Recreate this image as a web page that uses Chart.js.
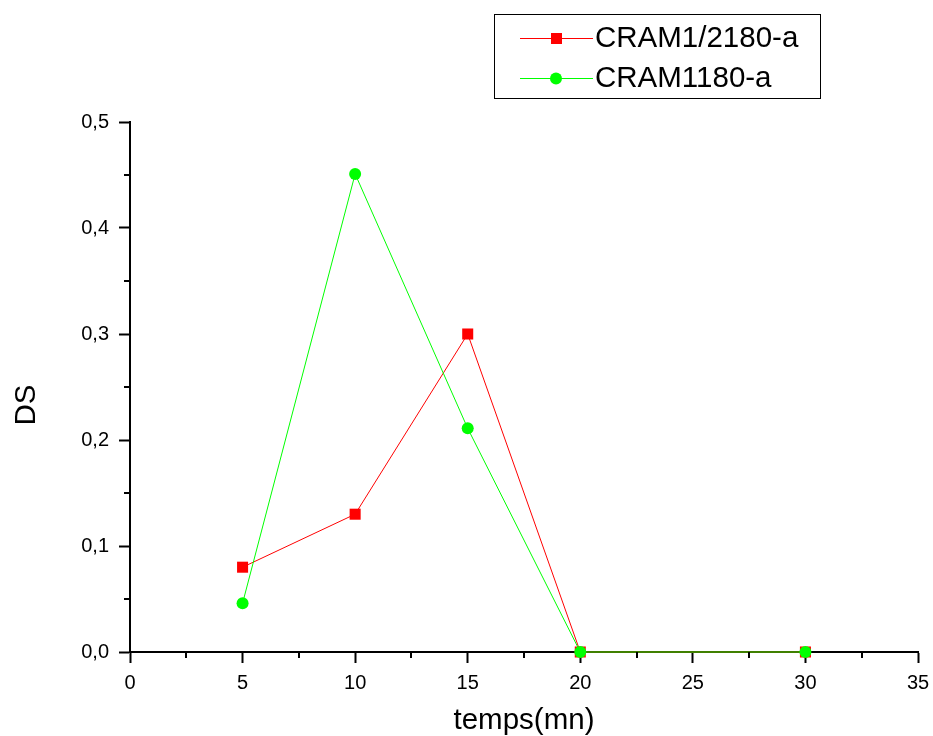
<!DOCTYPE html>
<html>
<head>
<meta charset="utf-8">
<script src="https://cdn.jsdelivr.net/npm/chart.js@4"></script>
<style>
  html, body { margin: 0; padding: 0; background: #fff; }
  #wrap { width: 933px; height: 736px; }
</style>
</head>
<body>
<div id="wrap"><canvas id="chart" width="933" height="736"></canvas></div>
<script>
// values
const tempsMn = [5, 10, 15, 20, 30];
const cram1_2180 = [0.08, 0.13, 0.30, 0, 0];
const cram1180 = [0.046, 0.451, 0.211, 0, 0];
const seriesNames = ['CRAM1/2180-a', 'CRAM1180-a'];
const xMinorTicks = [2.5, 7.5, 12.5, 17.5, 22.5, 27.5, 32.5];
const yMinorTicks = [0.05, 0.15, 0.25, 0.35, 0.45];

const FONT = '"Liberation Sans", Arial, sans-serif';

const toPoints = (ys) => ys.map((y, i) => ({ x: tempsMn[i], y: y }));

// minor ticks, axis titles and the boxed legend
const extras = {
  id: 'extras',
  afterDraw(chart) {
    const ctx = chart.ctx;
    const xs = chart.scales.x, ys = chart.scales.y;
    const area = chart.chartArea;
    ctx.save();
    ctx.strokeStyle = '#000';
    ctx.lineWidth = 2;
    ctx.beginPath();
    xMinorTicks.forEach(v => {
      const px = Math.round(xs.getPixelForValue(v));
      ctx.moveTo(px, area.bottom);
      ctx.lineTo(px, area.bottom + 6);
    });
    yMinorTicks.forEach(v => {
      const py = Math.round(ys.getPixelForValue(v));
      ctx.moveTo(area.left - 6, py);
      ctx.lineTo(area.left, py);
    });
    ctx.stroke();

    // axis titles
    ctx.fillStyle = '#000';
    ctx.font = '29.5px ' + FONT;
    ctx.textAlign = 'center';
    ctx.textBaseline = 'middle';
    ctx.fillText('temps(mn)', 524, 721);
    ctx.save();
    ctx.translate(27, 405);
    ctx.rotate(-Math.PI / 2);
    ctx.fillText('DS', 0, 0);
    ctx.restore();

    // legend
    ctx.lineWidth = 1;
    ctx.strokeStyle = '#000';
    ctx.strokeRect(494.5, 14.5, 326, 84);
    const rows = [38, 78];
    chart.data.datasets.slice().sort((a, b) => a.legendIndex - b.legendIndex).forEach((ds, i) => {
      const y = rows[i];
      ctx.strokeStyle = ds.borderColor;
      ctx.lineWidth = 1;
      ctx.beginPath();
      ctx.moveTo(520, y + 0.5);
      ctx.lineTo(593, y + 0.5);
      ctx.stroke();
      ctx.fillStyle = ds.backgroundColor;
      if (ds.pointStyle === 'rect') {
        ctx.fillRect(551, y - 5, 11, 11);
      } else {
        ctx.beginPath();
        ctx.arc(556, y + 0.5, 6, 0, Math.PI * 2);
        ctx.fill();
      }
      ctx.fillStyle = '#000';
      ctx.textAlign = 'left';
      ctx.fillText(ds.label, 595, y + 1);
    });
    ctx.restore();
  }
};

new Chart(document.getElementById('chart'), {
  type: 'line',
  data: {
    datasets: [
      {
        label: seriesNames[0],
        legendIndex: 0,
        data: toPoints(cram1_2180),
        borderColor: '#ff0000',
        backgroundColor: '#ff0000',
        borderWidth: 1,
        pointStyle: 'rect',
        pointRadius: 7.8,
        pointBorderWidth: 0,
        order: 1,
        clip: false
      },
      {
        label: seriesNames[1],
        legendIndex: 1,
        data: toPoints(cram1180),
        borderColor: '#00ff00',
        backgroundColor: '#00ff00',
        borderWidth: 1,
        pointStyle: 'circle',
        pointRadius: 6,
        pointBorderWidth: 0,
        order: 0,
        clip: false
      }
    ]
  },
  options: {
    responsive: false,
    animation: false,
    layout: { padding: { top: 122, right: 15, bottom: 0, left: 0 } },
    plugins: {
      legend: { display: false },
      tooltip: { enabled: false },
      title: { display: false }
    },
    scales: {
      x: {
        type: 'linear',
        min: 0,
        max: 35,
        ticks: { stepSize: 5, color: '#000', font: { family: FONT, size: 20 }, padding: 8, maxRotation: 0 },
        grid: { display: true, drawOnChartArea: false, drawTicks: true, tickLength: 11, tickColor: '#000', tickWidth: 2 },
        border: { display: true, color: '#000', width: 2 },
        afterFit(scale) { scale.height = 84; scale.paddingRight = 5; scale.paddingLeft = 5; }
      },
      y: {
        type: 'linear',
        min: 0,
        max: 0.5,
        ticks: {
          stepSize: 0.1,
          color: '#000',
          font: { family: FONT, size: 20 },
          padding: 10,
          callback: (v) => v.toFixed(1).replace('.', ',')
        },
        grid: { display: true, drawOnChartArea: false, drawTicks: true, tickLength: 11, tickColor: '#000', tickWidth: 2 },
        border: { display: true, color: '#000', width: 2 },
        afterFit(scale) { scale.width = 130; scale.paddingTop = 5; scale.paddingBottom = 5; }
      }
    }
  },
  plugins: [extras]
});
</script>
</body>
</html>
